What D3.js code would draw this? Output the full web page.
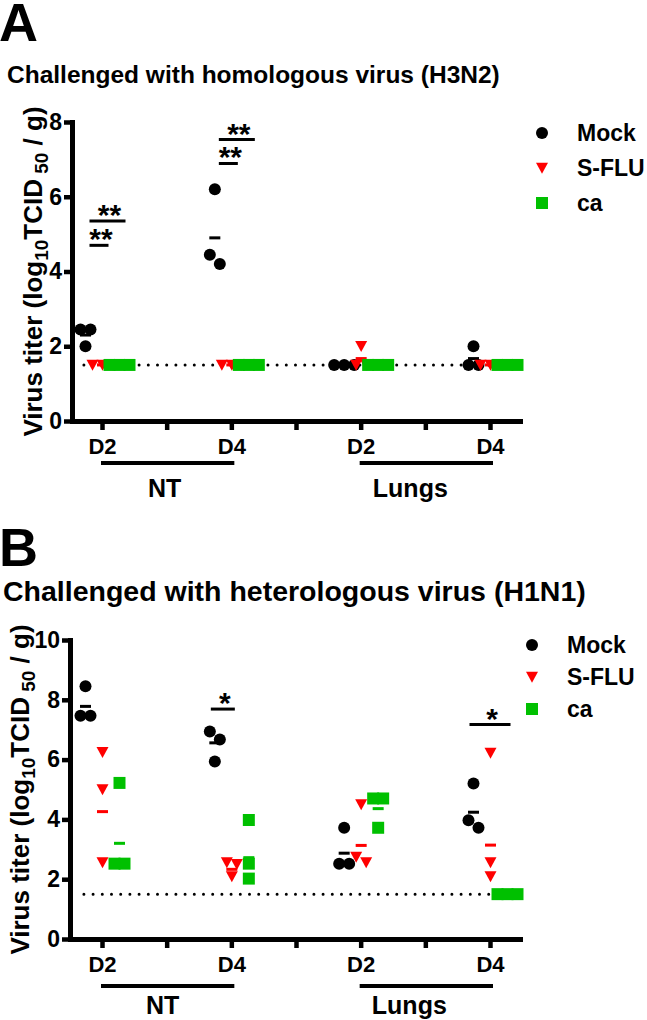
<!DOCTYPE html>
<html><head><meta charset="utf-8">
<script src="https://cdn.jsdelivr.net/npm/d3@7"></script>
<style>
body{margin:0;background:#fff}
text{font-family:"Liberation Sans",Arial,sans-serif;font-weight:bold;fill:#000}
</style>
</head><body>
<svg id="chart" width="647" height="1020"></svg>
<script>
// ---------- shared ----------
const groups = ["Mock", "S-FLU", "ca"];
const groupColors = ["#000000", "#ff0000", "#00c000"];
const tickLabels = ["D2", "", "D4", "", "D2", "", "D4"];
const dataCols = [0, 2, 4, 6];
const tissues = ["NT", "Lungs"];
const tissueSpans = [[0, 2], [4, 6]];
const detectionLimit = 1.5;

// ---------- panel A ----------
const letterA = "A";
const titleA = "Challenged with homologous virus (H3N2)";
const yTicksA = [0, 2, 4, 6, 8];
const mockA = [[2.45, 2.45, 2.0], [6.2, 4.45, 4.2], [1.5, 1.5, 1.5], [2.0, 1.5, 1.5]];
const sfluA = [[1.5, 1.5, 1.5], [1.5, 1.5, 1.5], [2.0, 1.5, 1.5], [1.5, 1.5, 1.5]];
const caA   = [[1.5, 1.5, 1.5], [1.5, 1.5, 1.5], [1.5, 1.5, 1.5], [1.5, 1.5, 1.5]];
const mockMeanA = [2.3, 4.9, 1.5, 1.67];
const sfluMeanA = [1.5, 1.5, 1.67, 1.5];
const caMeanA   = [1.5, 1.5, 1.5, 1.5];
const sigA = [
  {col: 0, from: "Mock", to: "S-FLU", y: 4.7, label: "**"},
  {col: 0, from: "Mock", to: "ca", y: 5.35, label: "**"},
  {col: 2, from: "Mock", to: "S-FLU", y: 6.89, label: "**"},
  {col: 2, from: "Mock", to: "ca", y: 7.53, label: "**"}
];

// ---------- panel B ----------
const letterB = "B";
const titleB = "Challenged with heterologous virus (H1N1)";
const yTicksB = [0, 2, 4, 6, 8, 10];
const mockB = [[8.45, 7.47, 7.47], [6.94, 6.67, 5.94], [3.72, 2.52, 2.52], [5.2, 3.97, 3.72]];
const sfluB = [[6.24, 5.0, 2.56], [2.56, 2.5, 2.09], [4.5, 2.74, 2.56], [6.22, 2.56, 2.09]];
const caB   = [[5.22, 2.52, 2.52], [3.98, 2.52, 2.02], [4.7, 4.7, 3.72], [1.5, 1.5, 1.5]];
const mockMeanB = [7.78, 6.56, 2.87, 4.24];
const sfluMeanB = [4.26, 2.33, 3.13, 3.14];
const caMeanB   = [3.2, 2.72, 4.36, 1.5];
const sigB = [
  {col: 2, from: "Mock", to: "S-FLU", y: 7.69, label: "*"},
  {col: 6, from: "Mock", to: "ca", y: 7.17, label: "*"}
];

const svg = d3.select("#chart");

function markerPath(group) {
  if (group === "Mock") return d3.symbol(d3.symbolCircle, Math.PI * 36)();
  if (group === "S-FLU") return "M-6,-5.3L6,-5.3L0,5.7Z";
  return "M-6,-6H6V6H-6Z";
}

function drawPanel(cfg) {
  const g = svg.append("g");
  // letter + title
  g.append("text").attr("x", cfg.letterX).attr("y", cfg.letterY)
    .attr("font-size", 54).text(cfg.letter);
  g.append("text").attr("x", cfg.titleX).attr("y", cfg.titleY)
    .attr("font-size", cfg.titleSize).text(cfg.title);

  const y = d3.scaleLinear().domain([0, d3.max(cfg.yTicks)]).range([cfg.y0, cfg.yTop]);
  const x = d3.scaleLinear().domain([0, tickLabels.length - 1]).range([102, 490]);
  const xAxisScale = x.copy().domain([x.invert(cfg.axisX), x.invert(520)]).range([cfg.axisX, 520]);
  const off = d3.scalePoint().domain(groups).range([-16.5, 17.5]);

  // y axis
  const ya = g.append("g").attr("transform", `translate(${cfg.axisX},0)`)
    .call(d3.axisLeft(y).tickValues(cfg.yTicks).tickSize(8).tickSizeOuter(0).tickPadding(2));
  ya.select(".domain").attr("stroke-width", 5).attr("stroke-linecap", "square");
  ya.selectAll(".tick line").attr("stroke-width", 4.5);
  ya.selectAll(".tick text").attr("font-size", 23).attr("font-family", null)
    .style("font-family", '"Liberation Sans",Arial,sans-serif').style("font-weight", "bold");

  // x axis
  const xa = g.append("g").attr("transform", `translate(0,${cfg.y0})`)
    .call(d3.axisBottom(xAxisScale).tickValues(d3.range(tickLabels.length))
      .tickFormat(i => tickLabels[i]).tickSize(9).tickSizeOuter(0).tickPadding(8));
  xa.select(".domain").attr("stroke-width", 5).attr("stroke-linecap", "square");
  xa.selectAll(".tick line").attr("stroke-width", 4.5);
  xa.selectAll(".tick text").attr("font-size", 22).attr("font-family", null)
    .style("font-family", '"Liberation Sans",Arial,sans-serif').style("font-weight", "bold");

  // tissue brackets
  tissues.forEach((t, i) => {
    const [a, b] = tissueSpans[i];
    g.append("line").attr("x1", x(a) - 1).attr("x2", x(b) + 3)
      .attr("y1", cfg.bracketY).attr("y2", cfg.bracketY)
      .attr("stroke", "#000").attr("stroke-width", 4);
    g.append("text").attr("x", (x(a) + x(b)) / 2 + cfg.tissueShift[i]).attr("y", cfg.tissueY)
      .attr("text-anchor", "middle").attr("font-size", 25).text(t);
  });

  // y label
  const yl = g.append("text")
    .attr("transform", `translate(${cfg.ylabX},${(cfg.y0 + cfg.yTop) / 2}) rotate(-90)`)
    .attr("text-anchor", "middle").attr("font-size", 26);
  yl.append("tspan").text("Virus titer (log");
  yl.append("tspan").attr("font-size", 19).attr("dy", 6).text("10");
  yl.append("tspan").attr("dy", -6).text("TCID");
  yl.append("tspan").attr("font-size", 19).attr("dy", 6).text(" 50");
  yl.append("tspan").attr("dy", -6).text(" / g)");

  // detection limit
  g.append("line").attr("x1", x(-0.28)).attr("x2", 520)
    .attr("y1", y(detectionLimit)).attr("y2", y(detectionLimit))
    .attr("stroke", "#000").attr("stroke-width", 3)
    .attr("stroke-linecap", "round").attr("stroke-dasharray", "0 9.2");

  // points (beeswarm rows) + means
  const d = 10, T = 11;
  groups.forEach((grp, gi) => {
    const vals = cfg.values[gi];
    const means = cfg.means[gi];
    dataCols.forEach((col, ci) => {
      const cx = x(col) + off(grp);
      const sorted = vals[ci].slice().sort((a, b) => b - a);
      const rows = [];
      sorted.forEach(v => {
        const last = rows[rows.length - 1];
        if (last && Math.abs(y(v) - y(last[0])) <= T) last.push(v); else rows.push([v]);
      });
      const pts = [];
      rows.forEach(r => r.forEach((v, k) => pts.push({v, dx: (k - (r.length - 1) / 2) * d})));
      g.selectAll(null).data(pts).enter().append("path")
        .attr("d", markerPath(grp))
        .attr("transform", p => `translate(${cx + p.dx},${y(p.v)})`)
        .attr("fill", groupColors[gi]);
      g.append("rect").attr("x", cx - 5.5).attr("y", y(means[ci]) - 1.5)
        .attr("width", 11).attr("height", 3).attr("fill", groupColors[gi]);
    });
  });

  // significance
  cfg.sig.forEach(s => {
    const x1 = x(s.col) + off(s.from) + cfg.sigPad[0];
    const x2 = x(s.col) + off(s.to) + cfg.sigPad[1];
    g.append("line").attr("x1", x1).attr("x2", x2).attr("y1", y(s.y)).attr("y2", y(s.y))
      .attr("stroke", "#000").attr("stroke-width", 3);
    g.append("text").attr("x", (x1 + x2) / 2 + 2).attr("y", y(s.y) + 4)
      .attr("text-anchor", "middle").attr("font-size", 30).text(s.label);
  });

  // legend
  groups.forEach((grp, gi) => {
    const ly = cfg.legY + gi * cfg.legStep;
    g.append("path").attr("d", markerPath(grp))
      .attr("transform", `translate(${cfg.legX},${ly})`).attr("fill", groupColors[gi]);
    g.append("text").attr("x", cfg.legX + 35).attr("y", ly).attr("dy", "0.36em")
      .attr("font-size", 23).text(grp);
  });
}

drawPanel({
  letter: letterA, letterX: -1, letterY: 41,
  title: titleA, titleX: 7, titleY: 83, titleSize: 24.5,
  yTicks: yTicksA, y0: 421, yTop: 122, axisX: 72,
  bracketY: 463, tissueY: 497, tissueShift: [-2, -15],
  ylabX: 42,
  values: [mockA, sfluA, caA], means: [mockMeanA, sfluMeanA, caMeanA],
  sig: sigA, sigPad: [4, 6],
  legX: 542, legY: 133, legStep: 35
});

drawPanel({
  letter: letterB, letterX: -1, letterY: 566,
  title: titleB, titleX: 3, titleY: 601, titleSize: 28.5,
  yTicks: yTicksB, y0: 939, yTop: 640, axisX: 70,
  bracketY: 986, tissueY: 1014, tissueShift: [-4, -16],
  ylabX: 29,
  values: [mockB, sfluB, caB], means: [mockMeanB, sfluMeanB, caMeanB],
  sig: sigB, sigPad: [-4, 3],
  legX: 532, legY: 645, legStep: 32
});
</script>
</body></html>
